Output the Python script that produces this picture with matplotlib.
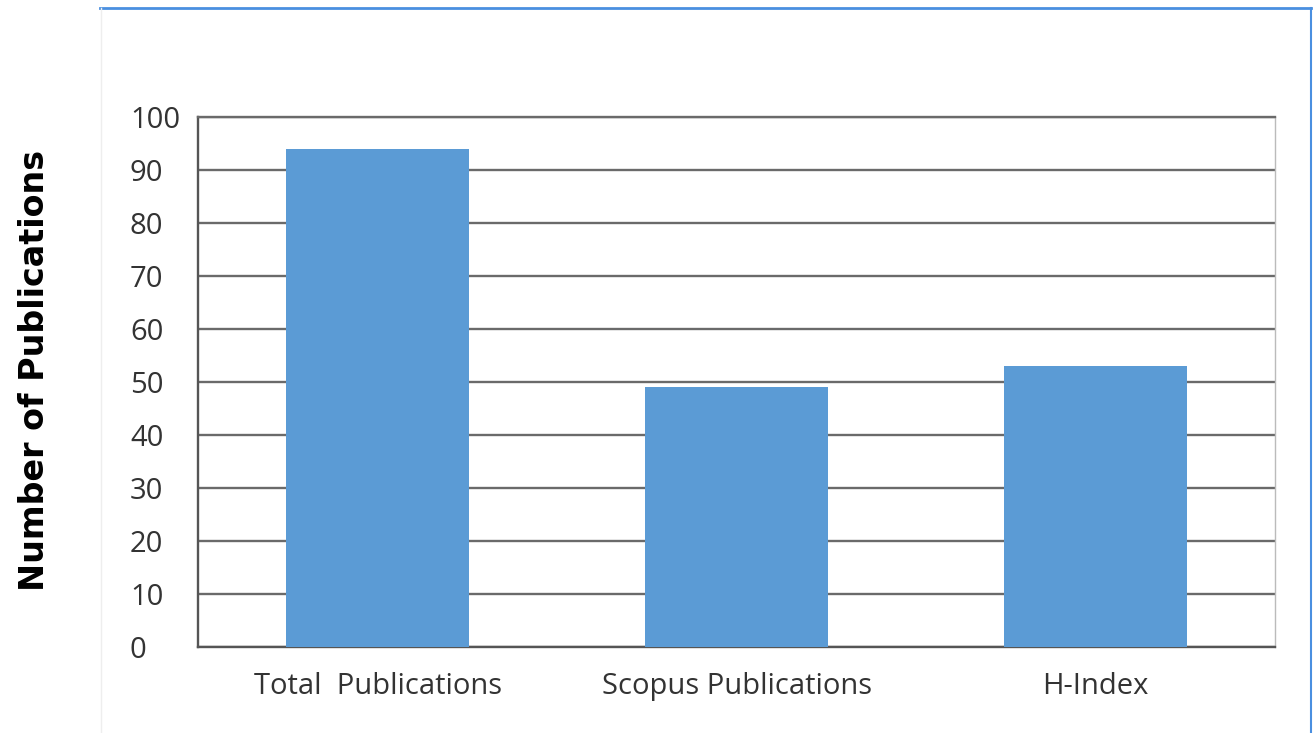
import matplotlib
matplotlib.use("Agg")
import matplotlib.pyplot as plt
from matplotlib.lines import Line2D

categories = ["Total  Publications", "Scopus Publications", "H-Index"]
values = [94, 49, 53]
yticks = [0, 10, 20, 30, 40, 50, 60, 70, 80, 90, 100]

W, H = 1314, 733
fig = plt.figure(figsize=(W / 100, H / 100), dpi=100)

# outer frame (blue top/right, faint left)
fig.add_artist(Line2D([100 / W, 1311 / W], [1 - 8 / H, 1 - 8 / H], color="#4a8fe0", lw=2.0, transform=fig.transFigure))
fig.add_artist(Line2D([1311 / W, 1311 / W], [0, 1 - 8 / H], color="#4a8fe0", lw=1.5, transform=fig.transFigure))
fig.add_artist(Line2D([101 / W, 101 / W], [0, 1 - 8 / H], color="#eeeeee", lw=1.0, transform=fig.transFigure))

left, right, top, bottom = 198, 1275, 117, 647
ax = fig.add_axes([left / W, 1 - bottom / H, (right - left) / W, (bottom - top) / H])

x = range(len(categories))
ax.bar(x, values, width=0.51, color="#5b9bd5", zorder=3)
ax.set_xlim(-0.5, 2.5)
ax.set_ylim(0, 100)
ax.set_yticks(yticks)
ax.set_yticklabels([str(v) for v in yticks], fontsize=21, color="#333333", family="Open Sans")
ax.set_xticks(list(x))
ax.set_xticklabels(categories, fontsize=21, color="#333333", family="Open Sans")
ax.tick_params(axis="both", length=0)
ax.tick_params(axis="x", pad=18)
for lbl in ax.get_yticklabels():
    lbl.set_horizontalalignment("left")
ax.yaxis.set_tick_params(pad=49)

ax.yaxis.grid(True, color="#6a6a6a", lw=1.7, zorder=1)
ax.set_axisbelow(True)
ax.spines["left"].set_color("#555555")
ax.spines["left"].set_linewidth(1.7)
ax.spines["bottom"].set_color("#555555")
ax.spines["bottom"].set_linewidth(1.7)
ax.spines["top"].set_color("#6a6a6a")
ax.spines["top"].set_linewidth(1.7)
ax.spines["right"].set_color("#bbbbbb")
ax.spines["right"].set_linewidth(1.0)

fig.text(35 / W, 1 - 370 / H, "Number of Publications", rotation=90, ha="center", va="center",
         fontsize=24, fontweight="bold", family="DejaVu Sans", color="black")

fig.savefig("out.png", dpi=100)
